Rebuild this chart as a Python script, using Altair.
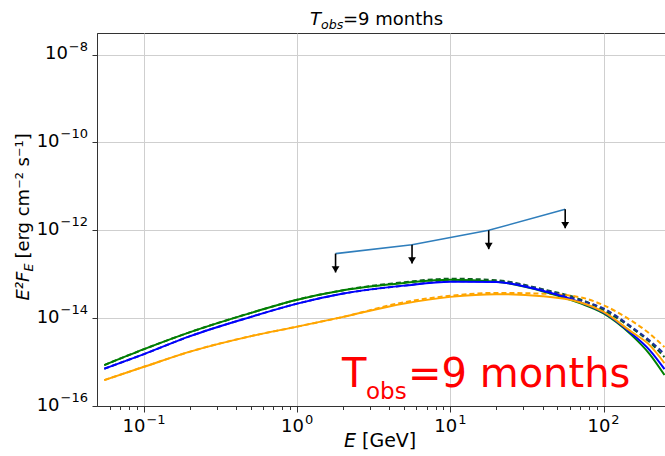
import altair as alt
import pandas as pd

# Energy grid (GeV) shared by the model spectra
energy = [0.055, 0.1, 0.2, 0.5, 1, 2, 5, 10, 20, 40, 70, 100, 150, 200, 250]

# E^2 F_E model spectra (erg cm^-2 s^-1)
green_solid = [8.55e-16, 1.97e-15, 4.81e-15, 1.32e-14, 2.63e-14, 4.33e-14, 6.34e-14,
               7.50e-14, 6.76e-14, 4.11e-14, 2.19e-14, 1.28e-14, 4.33e-15, 1.52e-15, 5.07e-16]
green_dashed = [8.55e-16, 1.97e-15, 4.81e-15, 1.32e-14, 2.63e-14, 4.33e-14, 6.58e-14,
                7.91e-14, 7.31e-14, 4.56e-14, 2.70e-14, 1.52e-14, 6.24e-15, 2.85e-15, 1.30e-15]
blue_solid = [7.05e-16, 1.52e-15, 3.90e-15, 1.07e-14, 2.14e-14, 3.63e-14, 5.50e-14,
              6.76e-14, 6.61e-14, 4.22e-14, 2.31e-14, 1.35e-14, 4.68e-15, 1.87e-15, 6.93e-16]
blue_dashed = [7.05e-16, 1.52e-15, 3.90e-15, 1.07e-14, 2.14e-14, 3.63e-14, 5.50e-14,
               6.93e-14, 6.82e-14, 4.45e-14, 2.56e-14, 1.66e-14, 6.58e-15, 3.08e-15, 1.52e-15]
orange_solid = [3.89e-16, 7.82e-16, 1.73e-15, 3.90e-15, 6.41e-15, 1.07e-14, 2.16e-14,
                3.05e-14, 3.51e-14, 3.16e-14, 2.31e-14, 1.39e-14, 5.07e-15, 2.43e-15, 9.48e-16]
orange_dashed = [3.89e-16, 7.82e-16, 1.73e-15, 3.90e-15, 6.41e-15, 1.07e-14, 2.31e-14,
                 3.24e-14, 3.76e-14, 3.61e-14, 3.00e-14, 1.97e-14, 9.00e-15, 4.44e-15, 2.19e-15]

# Flux upper limits per energy bin
ul_energy = [1.78, 5.62, 17.8, 56.2]
ul_flux = [2.95e-13, 4.7e-13, 1.0e-12, 3.0e-12]

# Axis ticks and their decade exponents
x_major = [0.1, 1, 10, 100]
x_major_exp = ["\u22121", "0", "1", "2"]
x_minor = [0.06, 0.07, 0.08, 0.09,
           0.2, 0.3, 0.4, 0.5, 0.6, 0.7, 0.8, 0.9,
           2, 3, 4, 5, 6, 7, 8, 9,
           20, 30, 40, 50, 60, 70, 80, 90, 200]
y_major = [1e-16, 1e-14, 1e-12, 1e-10, 1e-8]
y_major_exp = ["\u221216", "\u221214", "\u221212", "\u221210", "\u22128"]

W, H = 568, 373
FONT = "DejaVu Sans"
TICK_FS = 18        # "10" of the tick labels
EXP_FS = 13         # superscript exponent


def text_width(s, size):
    # DejaVu Sans advance widths for the glyphs used in tick labels
    adv = {"\u2212": 0.838}
    return sum(adv.get(ch, 0.636) for ch in s) * size


solid_series = {"green": green_solid, "blue": blue_solid, "orange": orange_solid}
dashed_series = {"green_d": green_dashed, "blue_d": blue_dashed, "orange_d": orange_dashed}
series_colors = {"green": "#008000", "blue": "#0000ff", "orange": "#ffa500",
                 "green_d": "#0f5c22", "blue_d": "#1b2f9c", "orange_d": "#ffa500"}


def long_table(series):
    rows = []
    for name, vals in series.items():
        for e, f in zip(energy, vals):
            rows.append({"series": name, "E": e, "F": f})
    return pd.DataFrame(rows)


solid_df = long_table(solid_series)
dashed_df = long_table(dashed_series)

ul_df = pd.DataFrame({"E": ul_energy, "F": ul_flux})
# arrow tips sit 0.43 decades below each limit
ul_df["F2"] = ul_df["F"] * 10 ** -0.43
head_df = pd.DataFrame({"E": ul_df["E"], "F": ul_df["F2"]})

exp_expr = "round(log(datum.value)/LN10)"
major_test = f"abs(log(datum.value)/LN10 - {exp_expr}) < 0.001"

x_axis = alt.Axis(
    values=x_major + x_minor, labels=False,
    tickSize={"condition": {"test": major_test, "value": 6}, "value": 3.5},
    gridOpacity={"condition": {"test": major_test, "value": 1}, "value": 0},
    title=None, grid=True,
)
y_axis = alt.Axis(values=y_major, labels=False, tickSize=5, title=None, grid=True)

x_scale = alt.Scale(type="log", domain=[0.0493, 252], nice=False)
y_scale = alt.Scale(type="log", domain=[1e-16, 3.1e-8], nice=False)

x_enc = alt.X("E:Q", scale=x_scale, axis=x_axis)
y_enc = alt.Y("F:Q", scale=y_scale, axis=y_axis)
color_enc = alt.Color("series:N", legend=None,
                      scale=alt.Scale(domain=list(series_colors.keys()),
                                      range=list(series_colors.values())))

dashed_lines = alt.Chart(dashed_df).mark_line(
    strokeWidth=2, strokeDash=[5, 3], clip=True, interpolate="monotone"
).encode(x=x_enc, y=y_enc, color=color_enc, detail="series:N")

solid_lines = alt.Chart(solid_df).mark_line(
    strokeWidth=2, clip=True, interpolate="monotone"
).encode(x=x_enc, y=y_enc, color=color_enc, detail="series:N")

ul_line = alt.Chart(ul_df).mark_line(
    color="#2f7ebc", strokeWidth=1.6, clip=True
).encode(x=x_enc, y=y_enc)

ul_shafts = alt.Chart(ul_df).mark_rule(
    color="black", strokeWidth=1.6
).encode(x=x_enc, y=y_enc, y2="F2:Q")

ul_heads = alt.Chart(head_df).mark_point(
    shape="M -0.62 -1 L 0.62 -1 L 0 0 Z", size=160, filled=True,
    color="black", opacity=1, strokeWidth=0
).encode(x=x_enc, y=y_enc)

# Tick labels in "10^n" form: base and raised exponent
tick_labels = []
for v, ex in zip(x_major, x_major_exp):
    w10 = text_width("10", TICK_FS)
    wex = text_width(ex, EXP_FS)
    half = (w10 + wex + 1) / 2
    d = pd.DataFrame({"E": [v]})
    tick_labels.append(alt.Chart(d).mark_text(
        text="10", font=FONT, fontSize=TICK_FS, align="left", baseline="alphabetic",
        dx=-half, color="black"
    ).encode(x=x_enc, y=alt.value(H + 26)))
    tick_labels.append(alt.Chart(d).mark_text(
        text=ex, font=FONT, fontSize=EXP_FS, align="left", baseline="alphabetic",
        dx=-half + w10 + 1, color="black"
    ).encode(x=x_enc, y=alt.value(H + 18)))

for v, ex in zip(y_major, y_major_exp):
    wex = text_width(ex, EXP_FS)
    d = pd.DataFrame({"F": [v]})
    tick_labels.append(alt.Chart(d).mark_text(
        text="10", font=FONT, fontSize=TICK_FS, align="right", baseline="alphabetic",
        dy=4.5, color="black"
    ).encode(x=alt.value(-9 - wex - 1), y=y_enc))
    tick_labels.append(alt.Chart(d).mark_text(
        text=ex, font=FONT, fontSize=EXP_FS, align="right", baseline="alphabetic",
        dy=-4, color="black"
    ).encode(x=alt.value(-9), y=y_enc))

one = pd.DataFrame({"k": [0]})


def label(text, x, y, size, style="normal", color="black", angle=0):
    kw = dict(text=text, font=FONT, fontSize=size, fontStyle=style, color=color,
              align="left", baseline="alphabetic")
    if angle:
        kw["angle"] = angle
    return alt.Chart(one).mark_text(**kw).encode(x=alt.value(x), y=alt.value(y))


texts = [
    # panel title
    label("T", 213, -8, 18, "italic"),
    label("obs", 224, -4, 12.6, "italic"),
    label("=9 months", 246, -8, 18),
    # in-plot annotation
    label("T", 245, 354, 40, color="#ff0000"),
    label("obs", 269, 366, 23, color="#ff0000"),
    label("=9 months", 311, 354, 40, color="#ff0000"),
    # x axis title
    label("E", 247, 414, 19, "italic"),
    label("[GeV]", 265, 414, 19),
    # y axis title (rotated)
    label("E\u00b2F", -68, 267.5, 18, "italic", angle=270),
    label("E", -64, 238.6, 12.6, "italic", angle=270),
    label("[erg cm\u207b\u00b2 s\u207b\u00b9]", -68, 225.6, 18, angle=270),
]

chart = alt.layer(
    dashed_lines, solid_lines, ul_line, ul_shafts, ul_heads, *tick_labels, *texts
).properties(
    width=W, height=H,
    autosize=alt.AutoSizeParams(type="none"),
    padding={"left": 97, "top": 33, "right": 0, "bottom": 50},
).configure_view(
    stroke="#333333", strokeWidth=1
).configure_axis(
    domainColor="#333333", tickColor="#333333",
    gridColor="#cfcfcf", gridWidth=1, domainWidth=1, tickWidth=1,
)

chart.save("out.html", embed_options={"renderer": "svg", "actions": False})
